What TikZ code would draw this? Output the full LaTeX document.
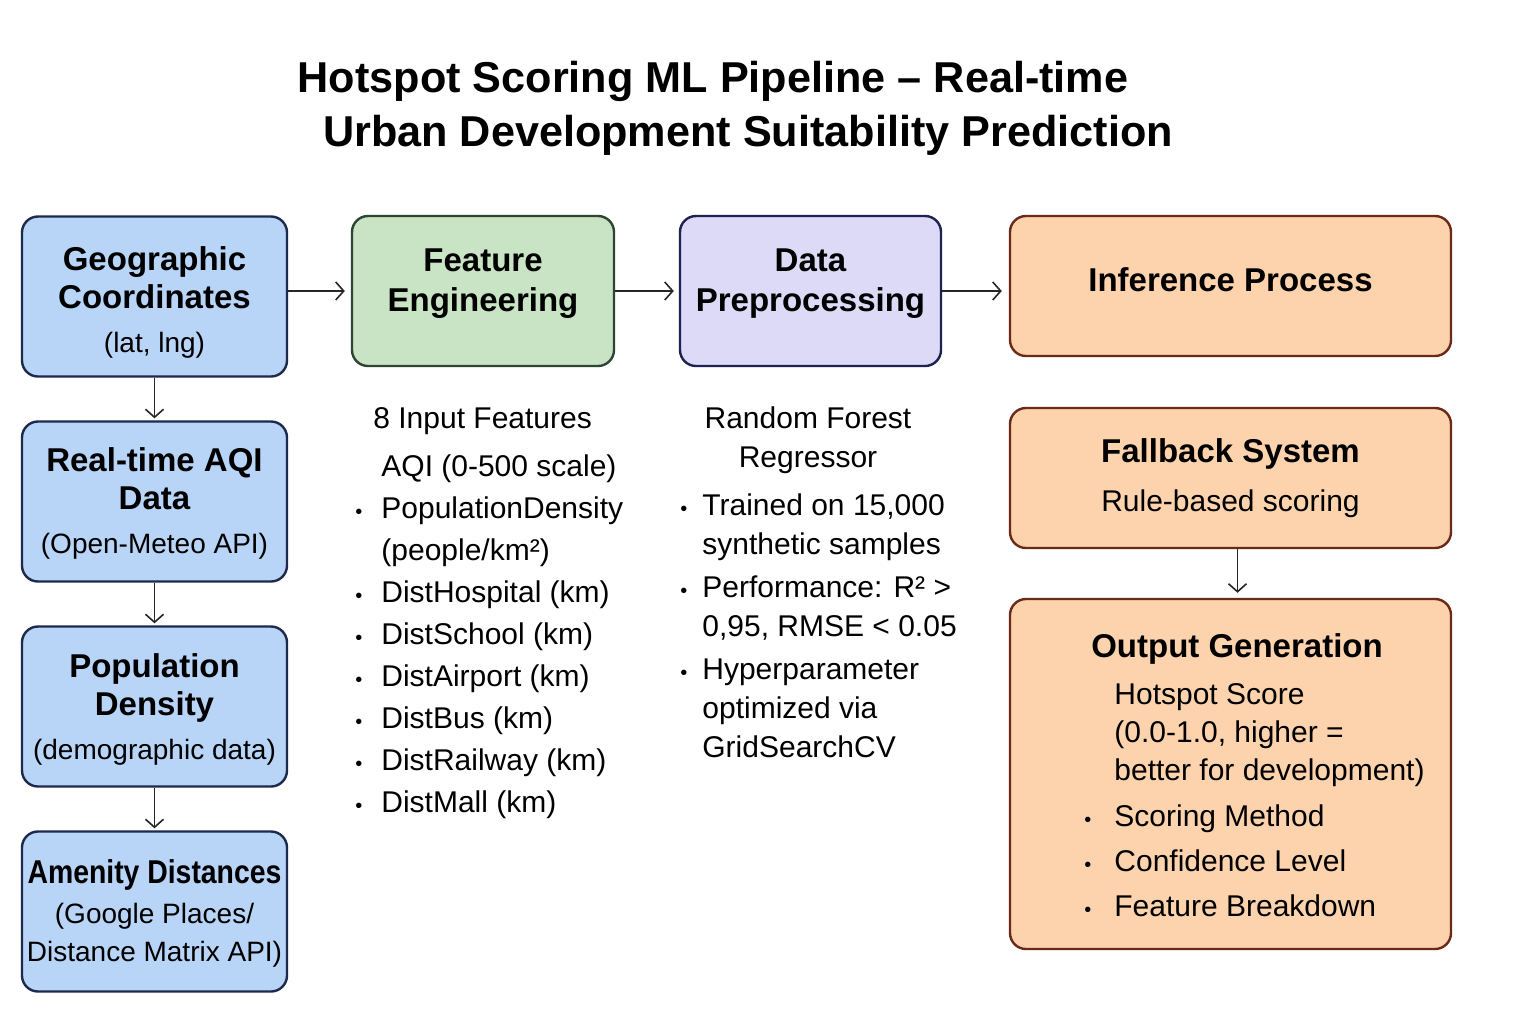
\documentclass[tikz,border=0pt]{standalone}
\usepackage{fontspec}
\setmainfont{Liberation Sans}
\usetikzlibrary{positioning,arrows.meta}

\definecolor{srcfill}{HTML}{B8D4F7}
\definecolor{srcline}{HTML}{1D2A4C}
\definecolor{featfill}{HTML}{C9E3C5}
\definecolor{featline}{HTML}{2D4531}
\definecolor{prepfill}{HTML}{DCDAF7}
\definecolor{prepline}{HTML}{1E2250}
\definecolor{inffill}{HTML}{FDD3AD}
\definecolor{infline}{HTML}{6B2A17}

\newcommand\subtxt{\normalfont\fontsize{14}{17}\selectfont}
\newcommand\bul[1][13pt]{\makebox[#1][l]{\fontsize{10}{10}\selectfont\textbullet}}

\begin{document}
\begin{tikzpicture}[x=0.5pt, y=-0.5pt,
	box/.style={draw, line width=1.2pt, rounded corners=8pt, align=center, inner sep=0pt,
		font=\bfseries\fontsize{16.5}{19}\selectfont},
	src/.style={box, fill=srcfill, draw=srcline, minimum width=132.5pt, minimum height=80pt},
	feat/.style={box, fill=featfill, draw=featline, minimum width=131pt, minimum height=75pt, text depth=10.5pt},
	prep/.style={box, fill=prepfill, draw=prepline, minimum width=130.5pt, minimum height=75pt, text depth=10.5pt},
	inf/.style={box, fill=inffill, draw=infline, minimum width=220.5pt, minimum height=70pt},
	arr/.style={draw=black!85, line width=0.8pt, -{Straight Barb[length=4pt,width=9pt]}},
	title/.style={font=\bfseries\fontsize{21.6}{25}\selectfont, anchor=base, inner sep=0pt},
	plain/.style={font=\fontsize{15}{19.5}\selectfont, inner sep=0pt},
	list/.style={plain, align=left, anchor=north west}]
\fill[white] (0,0) rectangle (1536,1024);
\useasboundingbox (0,0) rectangle (1536,1024);

\node[title] (title1) at (713,92) {Hotspot Scoring ML Pipeline – Real-time};
\node[title] (title2) at (748,146) {Urban Development Suitability Prediction};

\node[src] (geo) at (154.5,296.5) {\rule{0pt}{18pt}Geographic\\Coordinates\\[3pt]{\subtxt (lat, lng)}};
\node[src, below=21.3pt of geo] (aqi) {\rule{0pt}{14pt}Real-time AQI\\Data\\[3pt]{\subtxt (Open-Meteo API)}};
\node[src, below=21.3pt of aqi] (pop) {\rule{0pt}{15pt}Population\\Density\\[3pt]{\subtxt (demographic data)}};
\node[src, below=21.3pt of pop] (amen) {\rule{0pt}{14pt}\scalebox{0.86}[1]{Amenity Distances}\\[1pt]{\subtxt (Google Places/}\\{\subtxt Distance Matrix API)}};

\node[feat] (fe) at (483,291) {Feature\\[1pt]Engineering};
\node[prep] (dp) at (810.5,291) {Data\\[1pt]Preprocessing};
\node[inf, text depth=6pt] (inf) at (1230.5,286) {Inference Process};
\node[inf, below=24.8pt of inf] (fall) {Fallback System\\[5.5pt]{\normalfont\fontsize{15}{17}\selectfont Rule-based scoring}};
\node[inf, below=24.3pt of fall, minimum height=175pt] (out) {};

\node[plain, anchor=base west] (feathead) at (373,428) {8 Input Features};
\node[list, font=\fontsize{15}{21}\selectfont] (featlist) at (355,454) {\hspace*{13pt}AQI (0-500 scale)\\
	\bul PopulationDensity\\
	\hspace*{13pt}(people/km²)\\
	\bul DistHospital (km)\\
	\bul DistSchool (km)\\
	\bul DistAirport (km)\\
	\bul DistBus (km)\\
	\bul DistRailway (km)\\
	\bul DistMall (km)};

\node[plain, align=center] (rfhead) at (808,440) {Random Forest\\Regressor};
\node[list] (rflist) at (680,493) {\bul[11pt]Trained on 15,000\\
	\hspace*{11pt}synthetic samples\\[2pt]
	\bul[11pt]Performance: R² >\\
	\hspace*{11pt}0,95, RMSE < 0.05\\[2pt]
	\bul[11pt]Hyperparameter\\
	\hspace*{11pt}optimized via\\
	\hspace*{11pt}GridSearchCV};

\node[font=\bfseries\fontsize{16.5}{19}\selectfont, anchor=base, inner sep=0pt] (outhead) at (1237,657) {Output Generation};
\node[list, font=\fontsize{15}{19}\selectfont] (outlist) at (1084,683) {\hspace*{15pt}Hotspot Score\\
	\hspace*{15pt}(0.0-1.0, higher =\\
	\hspace*{15pt}better for development)\\[4pt]
	\bul[15pt]Scoring Method\\[3.5pt]
	\bul[15pt]Confidence Level\\[3.5pt]
	\bul[15pt]Feature Breakdown};

\draw[arr, shorten >=3pt] (geo.east |- fe.west) -- (fe.west);
\draw[arr, shorten >=2.5pt] (fe.east) -- (dp.west);
\draw[arr, shorten >=3.5pt] (dp.east) -- (dp.east -| inf.west);
\draw[arr, shorten >=1pt] (geo.south) -- (aqi.north);
\draw[arr, shorten >=1pt] (aqi.south) -- (pop.north);
\draw[arr, shorten >=1pt] (pop.south) -- (amen.north);
\draw[arr, shorten >=2.5pt] ([xshift=3.5pt]fall.south) -- ([xshift=3.5pt]out.north);
\end{tikzpicture}
\end{document}
